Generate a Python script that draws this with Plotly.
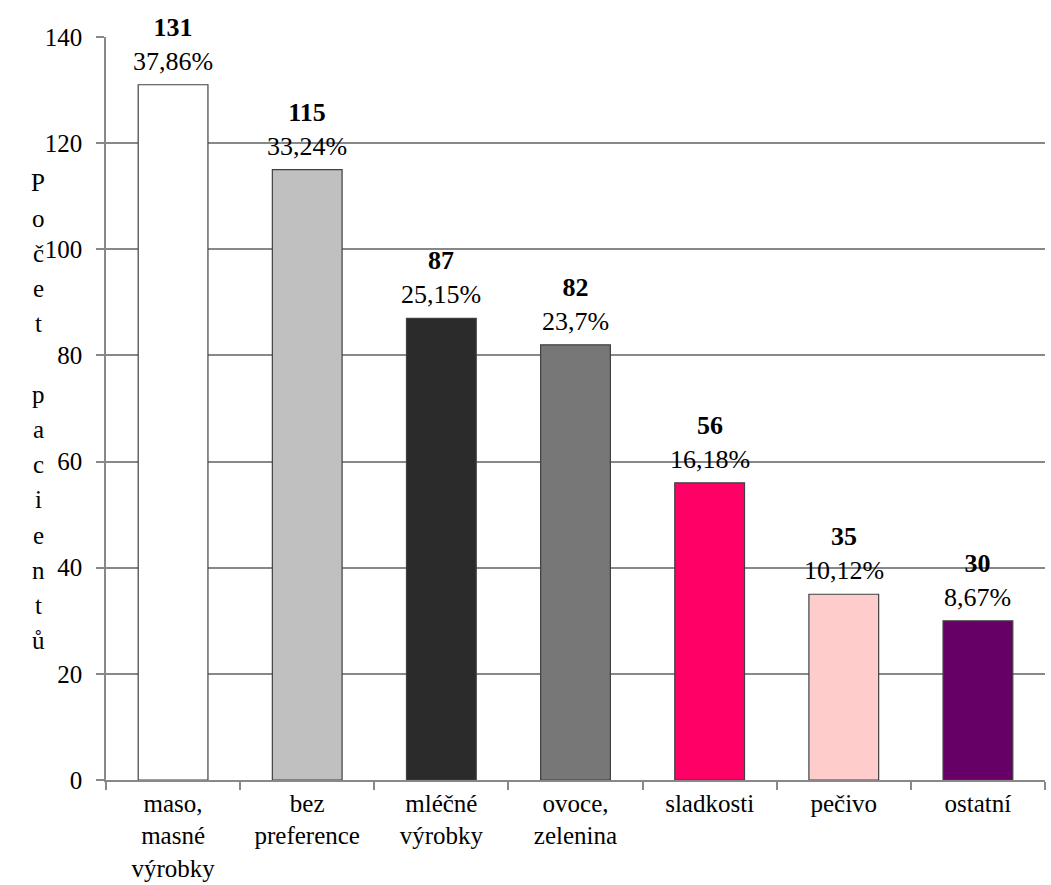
import plotly.graph_objects as go

categories = ["maso,<br>masné<br>výrobky", "bez<br>preference", "mléčné<br>výrobky",
              "ovoce,<br>zelenina", "sladkosti", "pečivo", "ostatní"]
counts = [131, 115, 87, 82, 56, 35, 30]
percents = ["37,86%", "33,24%", "25,15%", "23,7%", "16,18%", "10,12%", "8,67%"]
bar_colors = ["#FFFFFF", "#C0C0C0", "#2B2B2B", "#777777", "#FF0066", "#FFCCCC", "#660066"]
y_ticks = [0, 20, 40, 60, 80, 100, 120, 140]
y_title = "Počet pacientů"

FONT = "Liberation Serif"
FS = 26
TICK_FS = 25

fig = go.Figure()
fig.add_trace(go.Bar(
    x=categories,
    y=counts,
    marker=dict(color=bar_colors, line=dict(color="#404040", width=1.2)),
    hoverinfo="skip",
))

# value labels above bars: bold count and percentage share
for cat, c, p in zip(categories, counts, percents):
    fig.add_annotation(
        x=cat, y=c, xref="x", yref="y",
        text=f"<b>{c}</b><br>{p}",
        showarrow=False, yanchor="bottom", yshift=7,
        font=dict(family=FONT, size=FS, color="black"),
    )

# stacked vertical axis title, one character per line
top_y = 1 - (183 - 37) / 743
step = 35.2 / 743
for i, ch in enumerate(y_title):
    if ch == " ":
        continue
    fig.add_annotation(
        x=0, xref="paper", xshift=-68, y=top_y - i * step, yref="paper",
        text=ch, showarrow=False, xanchor="center", yanchor="middle",
        font=dict(family=FONT, size=TICK_FS, color="black"),
    )

fig.update_layout(
    width=1051, height=885,
    margin=dict(l=106, r=6, t=37, b=105),
    paper_bgcolor="white", plot_bgcolor="white",
    bargap=0.48,
    showlegend=False,
    font=dict(family=FONT, size=FS, color="black"),
)
fig.update_xaxes(
    type="category", automargin=False,
    showline=True, linecolor="#888888", linewidth=1.5,
    ticks="outside", tickson="boundaries", ticklen=8, tickcolor="#888888", tickwidth=1.5,
    showgrid=False,
    tickfont=dict(family=FONT, size=TICK_FS, color="black"),
)
fig.update_yaxes(
    range=[0, 140], tickvals=y_ticks, automargin=False,
    showline=True, linecolor="#888888", linewidth=1.5,
    ticks="outside", ticklen=8, tickcolor="#888888", tickwidth=1.5,
    ticklabelstandoff=9,
    showgrid=True, gridcolor="#888888", gridwidth=1.5,
    zeroline=False,
    tickfont=dict(family=FONT, size=TICK_FS, color="black"),
)

fig.write_html("out.html")
